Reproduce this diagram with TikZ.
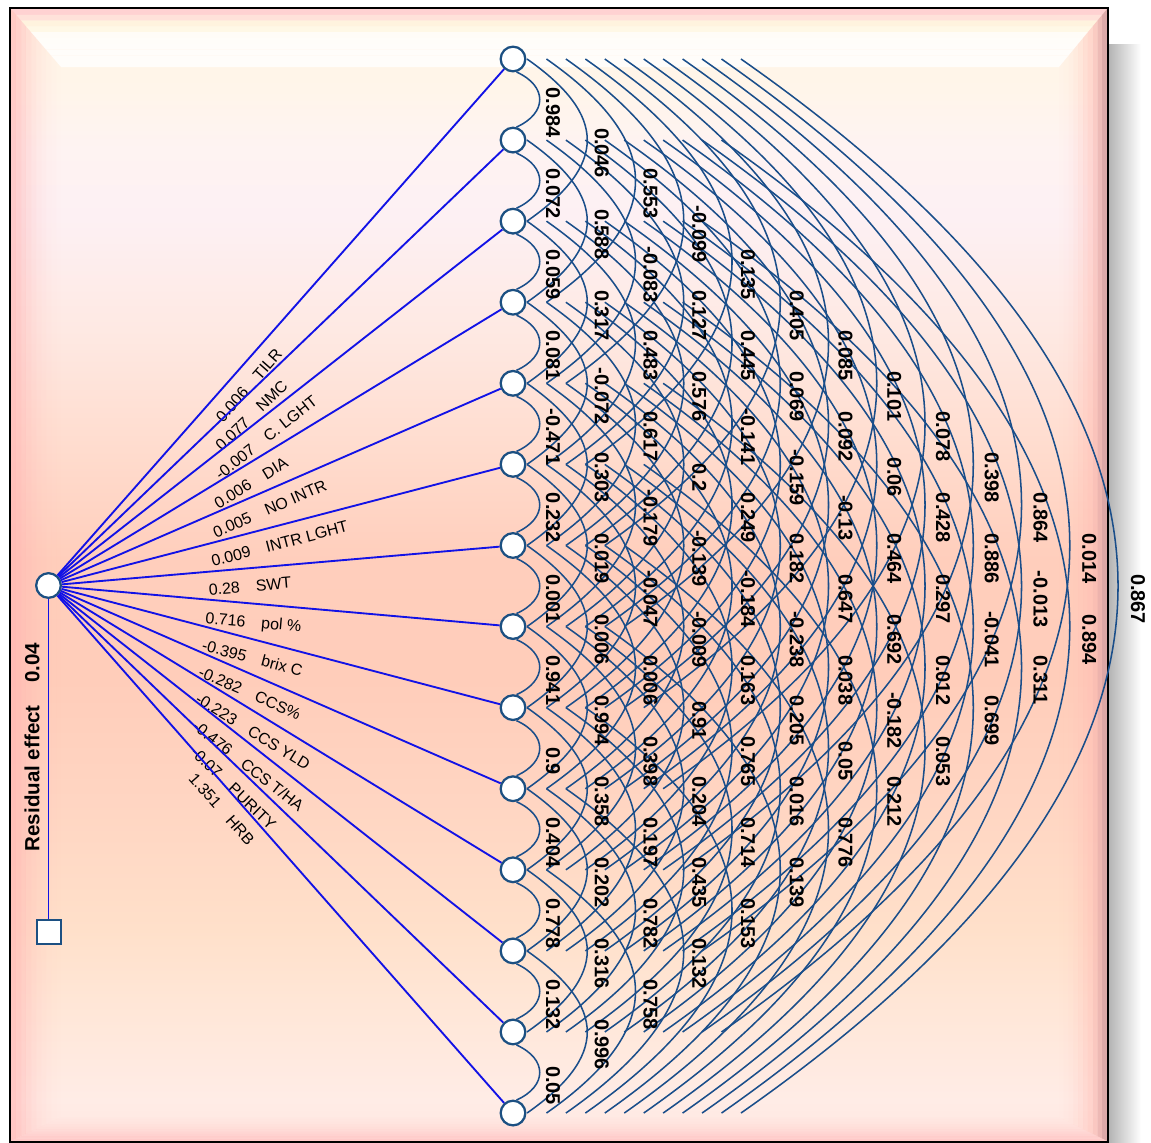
\documentclass[tikz,border=0pt]{standalone}
\usepackage{fontspec}
\setmainfont{Liberation Sans}
\usetikzlibrary{calc}

\definecolor{arcblue}{RGB}{26,78,138}
\definecolor{pathblue}{RGB}{18,18,230}
\definecolor{nodeedge}{RGB}{28,80,130}
\definecolor{rimleft}{HTML}{FFB0B0}
\definecolor{rimbottom}{HTML}{FFC4C4}

% panel colours, bottom to top
\definecolor{pa}{HTML}{FFE6E0}
\definecolor{pb}{HTML}{FFECE6}
\definecolor{pc}{HTML}{FFE6D6}
\definecolor{pd}{HTML}{FFE0CA}
\definecolor{pe}{HTML}{FFD5C2}
\definecolor{pf}{HTML}{FFCDBA}
\definecolor{pg}{HTML}{FFCEBC}
\definecolor{ph}{HTML}{FFDCCE}
\definecolor{pi}{HTML}{FEE9E3}
\definecolor{pj}{HTML}{FDF0F3}
\definecolor{pk}{HTML}{FEF3F2}
\definecolor{pl}{HTML}{FFF5EA}
\definecolor{pm}{HTML}{FFF4E4}
% the picture's box covers the middle half (25bp to 75bp) of the shading
\pgfdeclareverticalshading{panel}{100bp}{%
  color(0bp)=(pa); color(25bp)=(pa); color(26.8bp)=(pb); color(31.25bp)=(pc);
  color(34.35bp)=(pd); color(40bp)=(pe); color(45.4bp)=(pf); color(50.7bp)=(pg);
  color(55.55bp)=(ph); color(60.85bp)=(pi); color(65.7bp)=(pj); color(68.8bp)=(pk);
  color(71.45bp)=(pl); color(75bp)=(pm); color(100bp)=(pm)}

\tikzset{
  var/.style={circle, draw=nodeedge, fill=white, line width=1.7pt,
              minimum size=18.5pt, inner sep=0pt},
  resbox/.style={rectangle, draw=nodeedge, fill=white, line width=1.5pt,
              minimum size=18pt, inner sep=0pt},
  pathline/.style={pathblue, line width=1.4pt},
  corr/.style={arcblue, line width=1.15pt},
  corrlbl/.style={rotate=-90, inner sep=0pt,
              font=\bfseries\fontsize{15pt}{17pt}\selectfont},
  effect/.style={sloped, pos=0.33, anchor=north west, inner xsep=0pt,
              inner ysep=8.5pt, text=black, font=\fontsize{12pt}{14pt}\selectfont},
}

\begin{document}
\begin{tikzpicture}[x=0.75pt, y=-0.75pt]
\useasboundingbox (0,0) rectangle (1151,1142);
\fill[white] (0,0) rectangle (1151,1142);

% drop shadow on the right of the panel
\shade[left color=black!30, right color=white] (1108,44) rectangle (1141,1142);

% panel with its vertical gradient
\shade[shading=panel] (11,9) rectangle (1107,1141);

% bevelled rim of the panel, drawn as rings of trapezoids
\def\BL{50}\def\BT{58}\def\BR{48}\def\BB{24}
\foreach \r/\lo/\rc/\ro/\tc/\bo in {
  0/0.60/D9A3A3/0.90/FFD2D2/0.85,
  1/0.50/E9ADAA/0.80/FFE2DA/0.70,
  2/0.40/F8B6B0/0.65/FFF3DE/0.58,
  3/0.30/FFBCB4/0.50/FFF8E6/0.46,
  4/0.22/FFBCB4/0.38/FFFCF7/0.36,
  5/0.15/FFBEB6/0.27/FFFDF9/0.27,
  6/0.10/FFBEB6/0.18/FFFDFA/0.19,
  7/0.06/FFC0B8/0.10/FFFDFA/0.12,
  8/0.03/FFC0B8/0.05/FFFDFA/0.06,
  9/0.01/FFC0B8/0.02/FFFDFA/0.03}{
  \pgfmathsetmacro\sa{\r/10}
  \pgfmathsetmacro\sb{(\r+1)/10}
  \pgfmathsetmacro\oxa{11+\BL*\sa}\pgfmathsetmacro\oya{9+\BT*\sa}
  \pgfmathsetmacro\oxb{1107-\BR*\sa}\pgfmathsetmacro\oyb{1141-\BB*\sa}
  \pgfmathsetmacro\ixa{11+\BL*\sb}\pgfmathsetmacro\iya{9+\BT*\sb}
  \pgfmathsetmacro\ixb{1107-\BR*\sb}\pgfmathsetmacro\iyb{1141-\BB*\sb}
  \definecolor{rimright}{HTML}{\rc}
  \definecolor{rimtop}{HTML}{\tc}
  \fill[rimtop] (\oxa,\oya) -- (\oxb,\oya) -- (\ixb,\iya) -- (\ixa,\iya) -- cycle;
  \fill[rimleft, opacity=\lo] (\oxa,\oya) -- (\ixa,\iya) -- (\ixa,\iyb) -- (\oxa,\oyb) -- cycle;
  \fill[rimright, opacity=\ro] (\oxb,\oya) -- (\ixb,\iya) -- (\ixb,\iyb) -- (\oxb,\oyb) -- cycle;
  \fill[rimbottom, opacity=\bo] (\oxa,\oyb) -- (\oxb,\oyb) -- (\ixb,\iyb) -- (\ixa,\iyb) -- cycle;
}

% panel outline
\draw[black, line width=1.9pt] (10,8) rectangle (1108,1142);

% variables
\foreach \i in {0,...,13}
  \node[var] (r\i) at (513, {59+81.08*\i}) {};
\node[var] (L) at (48.5,585.5) {};
\node[resbox] (res) at (48.5,931.5) {};

% residual
\draw[pathline] (L) -- (res);
\node[rotate=90, inner sep=0pt, font=\bfseries\fontsize{15.4pt}{18pt}\selectfont]
  (residlbl) at (32,747) {Residual effect\hspace{1.1em}0.04};

% direct paths with their effects
\foreach \i/\val/\name in {
  0/{0.006}/{TILR}, 1/{0.077}/{NMC}, 2/{-0.007}/{C. LGHT}, 3/{0.006}/{DIA},
  4/{0.005}/{NO INTR}, 5/{0.009}/{INTR LGHT}, 6/{0.28}/{SWT}, 7/{0.716}/{pol \%},
  8/{-0.395}/{brix C}, 9/{-0.282}/{CCS\%}, 10/{-0.223}/{CCS YLD},
  11/{-0.476}/{CCS T/HA}, 12/{-0.07}/{PURITY}, 13/{1.351}/{HRB}}
  \draw[pathline] (L) -- node[effect] (e\i) {\val\hspace{1em}\name} (r\i);

% correlation arcs
\foreach \i in {0,...,12}{
  \pgfmathtruncatemacro\kmax{13-\i}
  \foreach \k in {1,...,\kmax}{
    \pgfmathtruncatemacro\j{\i+\k}
    \ifnum\k=1
      \draw[corr] (r\i.-75) .. controls +(31,14) and +(31,-14) .. (r\j.75);
    \else
      \pgfmathsetmacro\cdx{14+19.45*(\k-2)}
      \pgfmathsetmacro\cu{(26+48.25*(\k-1)-\cdx)/0.75}
      \pgfmathsetmacro\cv{0.7*\cu}
      \draw[corr] ($(r\i)+(\cdx,0)$) .. controls +(\cu,\cv) and +(\cu,-\cv) .. ($(r\j)+(\cdx,0)$);
    \fi
  }
}

% correlation values
\foreach \k/\vals in {
  1/{0.984,0.072,0.059,0.081,-0.471,0.232,0.001,0.941,0.9,0.404,0.778,0.132,0.05},
  2/{0.046,0.588,0.317,-0.072,0.303,0.019,0.006,0.994,0.358,0.202,0.316,0.996},
  3/{0.553,-0.083,0.483,0.617,-0.179,-0.047,0.006,0.398,0.197,0.782,0.758},
  4/{-0.099,0.127,0.576,0.2,-0.139,-0.009,0.91,0.204,0.435,0.132},
  5/{0.135,0.445,-0.141,0.249,-0.184,0.163,0.765,0.714,0.153},
  6/{0.405,0.069,-0.159,0.182,-0.238,0.205,0.016,0.139},
  7/{0.085,0.092,-0.13,0.647,0.038,0.05,0.776},
  8/{0.101,0.06,0.464,0.692,-0.182,0.212},
  9/{0.078,0.428,0.297,0.012,0.053},
  10/{0.398,0.886,-0.041,0.699},
  11/{0.864,-0.013,0.311},
  12/{0.014,0.894},
  13/{0.867}}{
  \foreach \t [count=\n from 0] in \vals
    \node[corrlbl] (c\k-\n) at ({553+48.75*(\k-1)}, {59+81.08*(\n+\k/2)+13}) {\t};
}
\end{tikzpicture}
\end{document}
